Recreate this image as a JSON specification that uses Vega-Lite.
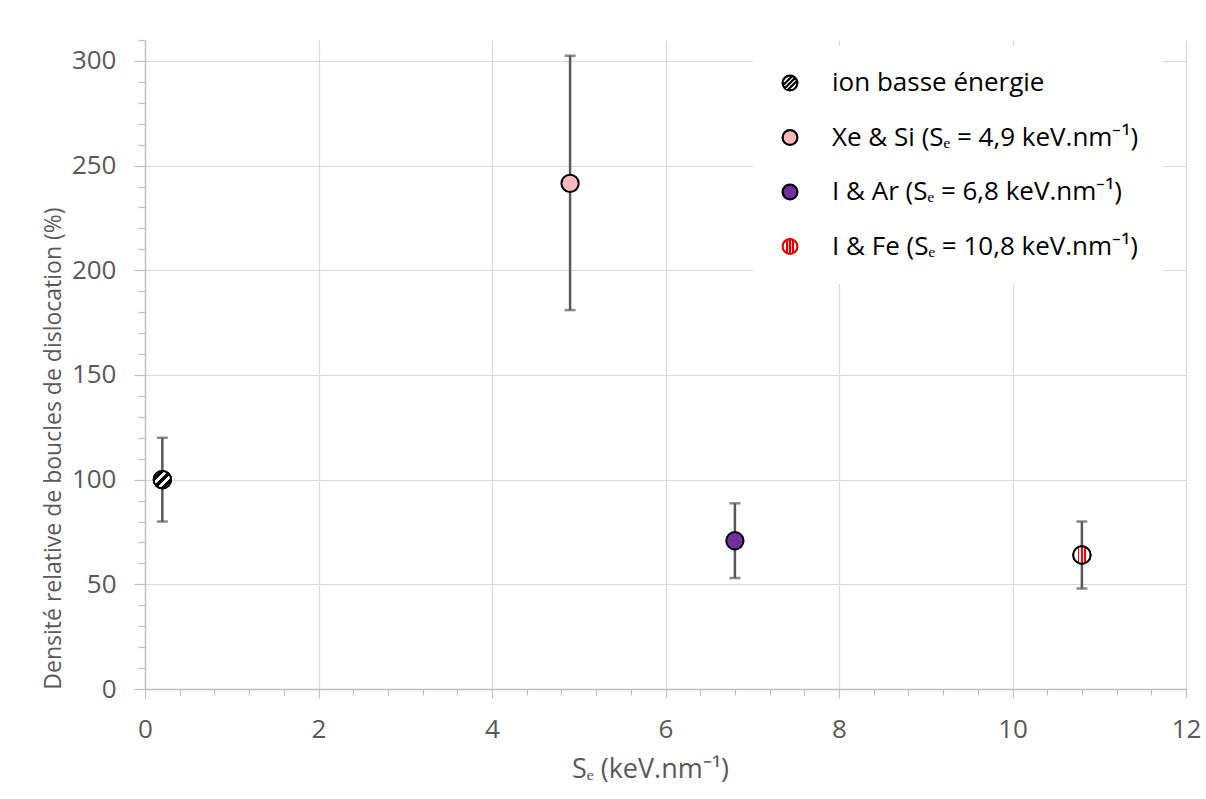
{
  "$schema": "https://vega.github.io/schema/vega-lite/v6.json",
  "autosize": {"type": "none"},
  "padding": {"left": 145, "top": 40, "right": 20, "bottom": 110},
  "width": 1041,
  "height": 649,
  "background": "white",
  "config": {
    "view": {"stroke": null},
    "font": "Open Sans"
  },
  "data": {
    "values": [
      {"serie": "ion basse énergie", "se": 0.2, "densite": 100, "bas": 80, "haut": 120},
      {"serie": "Xe & Si (Sₑ = 4,9 keV.nm⁻¹)", "se": 4.9, "densite": 241.5, "bas": 181, "haut": 302.5},
      {"serie": "I & Ar (Sₑ = 6,8 keV.nm⁻¹)", "se": 6.8, "densite": 70.8, "bas": 53, "haut": 88.7},
      {"serie": "I & Fe (Sₑ = 10,8 keV.nm⁻¹)", "se": 10.8, "densite": 64, "bas": 48, "haut": 80}
    ]
  },
  "layer": [
    {
      "mark": {"type": "rule", "color": "#595959", "strokeWidth": 2.5},
      "encoding": {
        "x": {
          "field": "se", "type": "quantitative",
          "scale": {"domain": [0, 12], "nice": false, "zero": false},
          "axis": {
            "title": "Sₑ (keV.nm⁻¹)",
            "titleFont": "Open Sans", "titleFontSize": 27, "titleFontWeight": "normal", "titleColor": "#595959", "titlePadding": 14, "titleX": 505,
            "values": [0,0.4,0.8,1.2,1.6,2,2.4,2.8,3.2,3.6,4,4.4,4.8,5.2,5.6,6,6.4,6.8,7.2,7.6,8,8.4,8.8,9.2,9.6,10,10.4,10.8,11.2,11.6,12],
            "tickCount": 200,
            "labelExpr": "abs(datum.value - round(datum.value/2)*2) < 0.001 ? datum.value : ''",
            "labelOverlap": false, "labelBound": false, "labelFlush": false,
            "labelFont": "Open Sans", "labelFontSize": 26, "labelColor": "#595959", "labelPadding": 18,
            "domainColor": "#bfbfbf", "domainWidth": 1.5,
            "tickColor": "#bfbfbf", "tickWidth": 1.2,
            "tickSize": {"condition": {"test": "abs(datum.value - round(datum.value/2)*2) < 0.001", "value": 9}, "value": 6},
            "grid": true, "gridColor": "#d9d9d9", "gridWidth": 1.2,
            "gridOpacity": {"condition": {"test": "abs(datum.value - round(datum.value/2)*2) < 0.001 && datum.value > 0", "value": 1}, "value": 0}
          }
        },
        "y": {
          "field": "bas", "type": "quantitative",
          "scale": {"domain": [0, 310], "nice": false},
          "axis": {
            "title": "Densité relative de boucles de dislocation (%)",
            "titleFont": "Open Sans", "titleFontSize": 23, "titleFontWeight": "normal", "titleColor": "#595959", "titlePadding": 6, "titleY": 408,
            "values": [0,10,20,30,40,50,60,70,80,90,100,110,120,130,140,150,160,170,180,190,200,210,220,230,240,250,260,270,280,290,300,310],
            "tickCount": 200,
            "labelExpr": "datum.value % 50 === 0 ? datum.value : ''",
            "labelOverlap": false, "labelBound": false, "labelFlush": false,
            "labelFont": "Open Sans", "labelFontSize": 26, "labelColor": "#595959", "labelPadding": 18,
            "domainColor": "#bfbfbf", "domainWidth": 1.5,
            "tickColor": "#bfbfbf", "tickWidth": 1.2,
            "tickSize": {"condition": {"test": "datum.value % 50 === 0", "value": 11}, "value": 7},
            "grid": true, "gridColor": "#d9d9d9", "gridWidth": 1.2,
            "gridOpacity": {"condition": {"test": "datum.value % 50 === 0 && datum.value > 0", "value": 1}, "value": 0}
          }
        },
        "y2": {"field": "haut"}
      }
    },
    {
      "mark": {"type": "tick", "orient": "horizontal", "color": "#595959", "size": 11, "thickness": 2.5},
      "encoding": {
        "x": {"field": "se", "type": "quantitative"},
        "y": {"field": "bas", "type": "quantitative"}
      }
    },
    {
      "mark": {"type": "tick", "orient": "horizontal", "color": "#595959", "size": 11, "thickness": 2.5},
      "encoding": {
        "x": {"field": "se", "type": "quantitative"},
        "y": {"field": "haut", "type": "quantitative"}
      }
    },
    {
      "mark": {"type": "point", "shape": "circle", "filled": true, "stroke": "black", "strokeWidth": 2, "opacity": 1, "fillOpacity": 1, "size": 300},
      "encoding": {
        "x": {"field": "se", "type": "quantitative"},
        "y": {"field": "densite", "type": "quantitative"},
        "fill": {
          "field": "serie", "type": "nominal",
          "scale": {
            "domain": ["ion basse énergie", "Xe & Si (Sₑ = 4,9 keV.nm⁻¹)", "I & Ar (Sₑ = 6,8 keV.nm⁻¹)", "I & Fe (Sₑ = 10,8 keV.nm⁻¹)"],
            "range": ["#ffffff", "#f7b9b9", "#7030a0", "#ffffff"]
          },
          "legend": {
            "title": null,
            "orient": "none", "legendX": 608, "legendY": 6,
            "fillColor": "white", "padding": 24,
            "symbolType": "circle", "symbolSize": 220, "symbolStrokeColor": "black", "symbolStrokeWidth": 2, "symbolOpacity": 1,
            "labelFont": "Open Sans", "labelFontSize": 26, "labelColor": "black", "labelLimit": 0, "labelOffset": 29,
            "rowPadding": 28.5,
            "encode": {
              "symbols": {
                "update": {
                  "stroke": {"signal": "datum.index === 3 ? '#e00000' : 'black'"},
                  "strokeWidth": {"value": 2.2},
                  "shape": {"signal": "datum.index === 0 ? 'M-1,0A1,1,0,1,1,1,0A1,1,0,1,1,-1,0ZM-0.95,0.31L0.31,-0.95M-0.707,0.707L0.707,-0.707M-0.31,0.95L0.95,-0.31' : datum.index === 3 ? 'M-1,0A1,1,0,1,1,1,0A1,1,0,1,1,-1,0ZM-0.4,-0.917L-0.4,0.917M0,-1L0,1M0.4,-0.917L0.4,0.917' : 'circle'"},
                  "fill": {"signal": "datum.index === 2 ? '#7030a0' : datum.index === 1 ? '#f7b9b9' : 'white'"}
                }
              }
            }
          }
        }
      }
    },
    {
      "transform": [{"filter": "datum.serie === 'ion basse énergie'"}],
      "mark": {"type": "point", "shape": "circle", "filled": true, "stroke": "black", "strokeWidth": 2, "opacity": 1, "size": 300,
        "fill": {"gradient": "linear", "x1": 0, "y1": 0, "x2": 1, "y2": 1, "stops": [
          {"offset": 0, "color": "white"}, {"offset": 0.2, "color": "white"},
          {"offset": 0.2, "color": "black"}, {"offset": 0.32, "color": "black"},
          {"offset": 0.32, "color": "white"}, {"offset": 0.44, "color": "white"},
          {"offset": 0.44, "color": "black"}, {"offset": 0.56, "color": "black"},
          {"offset": 0.56, "color": "white"}, {"offset": 0.68, "color": "white"},
          {"offset": 0.68, "color": "black"}, {"offset": 0.8, "color": "black"},
          {"offset": 0.8, "color": "white"}, {"offset": 1, "color": "white"}
        ]}},
      "encoding": {
        "x": {"field": "se", "type": "quantitative"},
        "y": {"field": "densite", "type": "quantitative"}
      }
    },
    {
      "transform": [{"filter": "datum.serie === 'I & Fe (Sₑ = 10,8 keV.nm⁻¹)'"}],
      "mark": {"type": "point", "shape": "circle", "filled": true, "stroke": "black", "strokeWidth": 2, "opacity": 1, "size": 300,
        "fill": {"gradient": "linear", "x1": 0, "y1": 0, "x2": 1, "y2": 0, "stops": [
          {"offset": 0, "color": "white"}, {"offset": 0.27, "color": "white"},
          {"offset": 0.27, "color": "red"}, {"offset": 0.36, "color": "red"},
          {"offset": 0.36, "color": "white"}, {"offset": 0.46, "color": "white"},
          {"offset": 0.46, "color": "red"}, {"offset": 0.55, "color": "red"},
          {"offset": 0.55, "color": "white"}, {"offset": 0.65, "color": "white"},
          {"offset": 0.65, "color": "red"}, {"offset": 0.74, "color": "red"},
          {"offset": 0.74, "color": "white"}, {"offset": 1, "color": "white"}
        ]}},
      "encoding": {
        "x": {"field": "se", "type": "quantitative"},
        "y": {"field": "densite", "type": "quantitative"}
      }
    }
  ]
}
